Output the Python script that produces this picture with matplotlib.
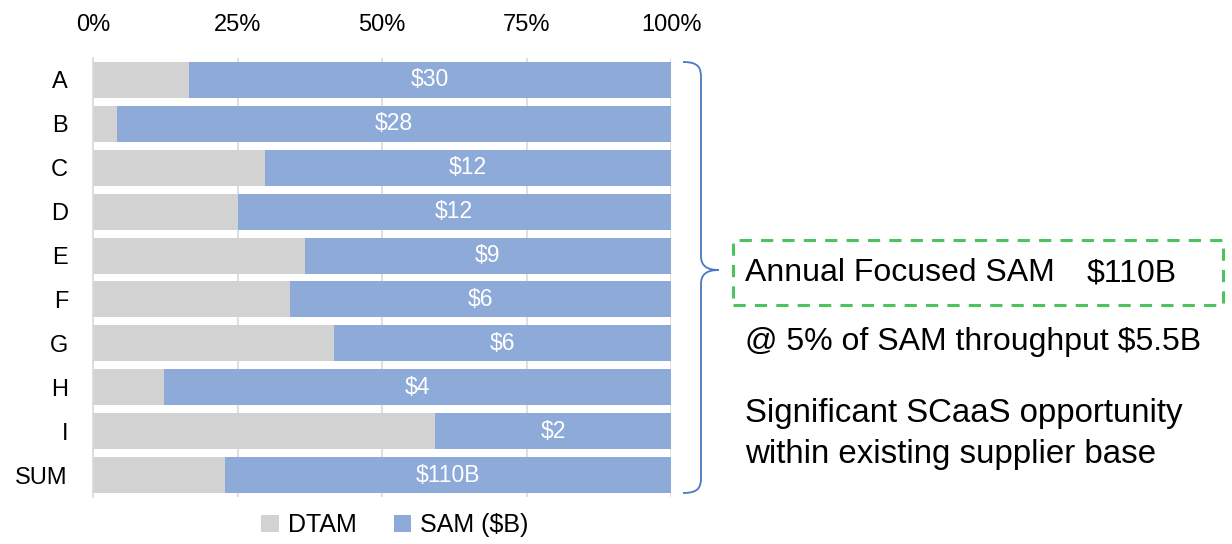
import numpy as np
import matplotlib.pyplot as plt
from matplotlib.path import Path
from matplotlib.patches import PathPatch, Rectangle

# Segment values in $B per supplier group
categories = ['A', 'B', 'C', 'D', 'E', 'F', 'G', 'H', 'I', 'SUM']
dtam = [6.0, 1.2, 5.1, 4.0, 5.2, 3.1, 4.3, 0.56, 2.9, 32.7]
sam = [30, 28, 12, 12, 9, 6, 6, 4, 2, 110]
sam_labels = ['$30', '$28', '$12', '$12', '$9', '$6', '$6', '$4', '$2', '$110B']
xticks = [0, 25, 50, 75, 100]

font = ['Liberation Sans', 'DejaVu Sans']

gray = '#d2d2d2'
blue = '#8eaad8'

dtam = np.array(dtam)
sam = np.array(sam, dtype=float)
total = dtam + sam
dtam_pct = dtam / total * 100
sam_pct = sam / total * 100

fig = plt.figure(figsize=(12.32, 5.44), dpi=100)
ax = fig.add_axes([93 / 1232, 1 - 497 / 544, 578 / 1232, 439 / 544])

y = np.arange(len(categories))
ax.barh(y, dtam_pct, height=0.82, color=gray, label='DTAM', zorder=2)
ax.barh(y, sam_pct, left=dtam_pct, height=0.82, color=blue, label='SAM ($B)', zorder=2)

for yi, left, width, lab in zip(y, dtam_pct, sam_pct, sam_labels):
    ax.text(left + width / 2, yi, lab, ha='center', va='center', color='white',
            fontsize=16.5, family=font, zorder=3)

ax.set_xlim(0, 100)
ax.set_ylim(len(categories) - 0.5, -0.5)
ax.set_xticks(xticks)
ax.set_xticklabels([f'{t}%' for t in xticks], family=font, fontsize=17)
ax.set_yticks(y)
ax.set_yticklabels(categories, family=font, fontsize=17)
ax.xaxis.tick_top()
ax.tick_params(axis='x', length=0, pad=16)
ax.tick_params(axis='y', length=0, pad=18)
ax.grid(axis='x', color='#d9d9d9', linewidth=1.2, zorder=1)
for side in ['top', 'right', 'bottom']:
    ax.spines[side].set_visible(False)
ax.spines['left'].set_color('#d9d9d9')
ax.spines['left'].set_linewidth(1.2)

fig.legend(loc='center', bbox_to_anchor=(395 / 1232, 1 - 525 / 544),
           ncol=2, frameon=False, handlelength=0.7, handleheight=0.7,
           handletextpad=0.35, columnspacing=1.5,
           prop={'family': font, 'size': 18})

# Curly brace grouping all rows
def fx(px):
    return px / 1232

def fy(py):
    return 1 - py / 544

x0, x1, xt = 683, 701, 719
ytop, ymid, ybot = 62, 270, 493
verts = [
    (x0, ytop), (x1 - 2, ytop), (x1, ytop + 6), (x1, ytop + 16),
    (x1, ymid - 14),
    (x1, ymid - 4), (x1 + 6, ymid), (xt, ymid),
    (x1 + 6, ymid), (x1, ymid + 4), (x1, ymid + 14),
    (x1, ybot - 16),
    (x1, ybot - 6), (x1 - 2, ybot), (x0, ybot),
]
codes = [Path.MOVETO, Path.CURVE4, Path.CURVE4, Path.CURVE4,
         Path.LINETO,
         Path.CURVE4, Path.CURVE4, Path.CURVE4,
         Path.CURVE4, Path.CURVE4, Path.CURVE4,
         Path.LINETO,
         Path.CURVE4, Path.CURVE4, Path.CURVE4]
brace = Path([(fx(a), fy(b)) for a, b in verts], codes)
fig.add_artist(PathPatch(brace, transform=fig.transFigure, fill=False,
                         edgecolor='#4a78c4', linewidth=1.3))

# Dashed summary box
box = Rectangle((fx(733), fy(305)), fx(1223) - fx(733), fy(240) - fy(305),
                transform=fig.transFigure, fill=False, edgecolor='#4cc35e',
                linewidth=2.2, linestyle=(0, (4, 3)))
fig.add_artist(box)
fig.text(fx(745), fy(273), 'Annual Focused SAM', ha='left', va='center',
         fontsize=23, family=font)
fig.text(fx(1177), fy(273), '$110B', ha='right', va='center',
         fontsize=23, family=font)
fig.text(fx(745), fy(342), '@ 5% of SAM throughput $5.5B', ha='left', va='center',
         fontsize=23, family=font)
fig.text(fx(745), fy(434), 'Significant SCaaS opportunity\nwithin existing supplier base',
         ha='left', va='center', fontsize=23.8, family=font, linespacing=1.45)

fig.savefig('out.png', dpi=100)
